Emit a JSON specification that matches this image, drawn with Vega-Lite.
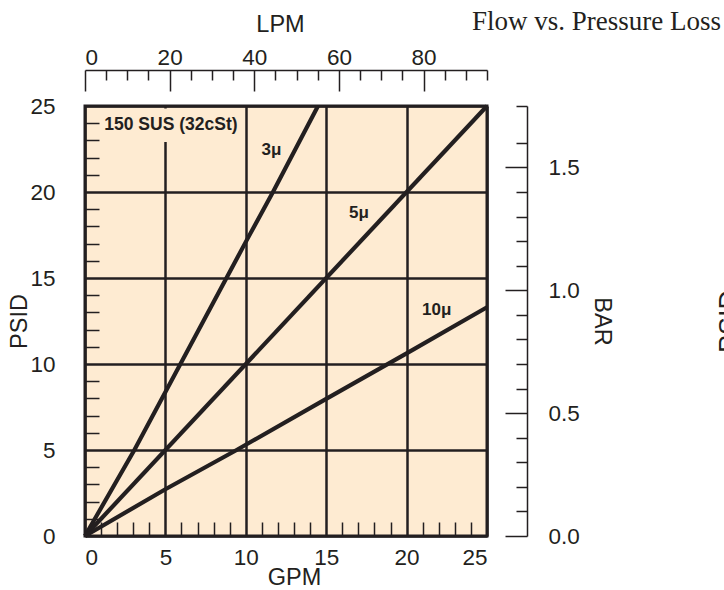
{
  "$schema": "https://vega.github.io/schema/vega-lite/v6.json",
  "autosize": {"type": "none"},
  "width": 402,
  "height": 430,
  "padding": {"left": 85, "top": 106, "right": 237, "bottom": 54},
  "background": "white",
  "title": {"text": "Flow vs. Pressure Loss", "font": "Liberation Serif", "fontSize": 27, "fontWeight": "normal", "color": "#231F20", "anchor": "start", "frame": "group", "dx": 387, "dy": 28},
  "config": {
    "view": {"fill": "#FEEBD2", "stroke": "#231F20", "strokeWidth": 3},
    "axis": {
      "labelFont": "Liberation Sans", "labelFontSize": 22.5, "labelColor": "#231F20",
      "titleFont": "Liberation Sans", "titleFontSize": 23.5, "titleFontWeight": "normal", "titleColor": "#231F20",
      "tickColor": "#231F20", "domainColor": "#231F20", "labelOverlap": false
    }
  },
  "datasets": {
    "curves": [
      {"series": "3u", "gpm": 0, "psid": 0},
      {"series": "3u", "gpm": 3.07, "psid": 5},
      {"series": "3u", "gpm": 10, "psid": 17.1},
      {"series": "3u", "gpm": 11.69, "psid": 20},
      {"series": "3u", "gpm": 14.49, "psid": 25},
      {"series": "5u", "gpm": 0, "psid": 0},
      {"series": "5u", "gpm": 25, "psid": 25},
      {"series": "10u", "gpm": 0, "psid": 0},
      {"series": "10u", "gpm": 5, "psid": 2.72},
      {"series": "10u", "gpm": 9.43, "psid": 5},
      {"series": "10u", "gpm": 15, "psid": 7.97},
      {"series": "10u", "gpm": 20, "psid": 10.62},
      {"series": "10u", "gpm": 25, "psid": 13.3}
    ],
    "labels": [
      {"label": "3μ", "gpm": 11.6, "psid": 22.44},
      {"label": "5μ", "gpm": 17.03, "psid": 18.76},
      {"label": "10μ", "gpm": 21.87, "psid": 13.14}
    ],
    "note": [
      {"label": "150 SUS (32cSt)", "gpm": 1.2, "psid": 23.9, "gpm2": 9.85, "psid_lo": 22.9, "psid_hi": 24.85}
    ],
    "secondary": [
      {"lpm": 0, "bar": 0},
      {"lpm": 95, "bar": 1.75}
    ]
  },
  "layer": [
    {
      "data": {"name": "curves"},
      "mark": {"type": "line", "strokeWidth": 4.2, "color": "#231F20", "strokeCap": "butt"},
      "encoding": {
        "x": {"field": "gpm", "type": "quantitative", "scale": {"domain": [0, 25], "nice": false, "zero": false},
          "axis": {"orient": "bottom", "values": [0, 5, 10, 15, 20, 25], "ticks": false, "domain": false, "grid": true, "gridColor": "#231F20", "gridWidth": 2.5, "gridOpacity": 1, "labelFlush": true, "labelPadding": 10, "title": "GPM", "titlePadding": -3, "titleX": 209}},
        "y": {"field": "psid", "type": "quantitative", "scale": {"domain": [0, 25], "nice": false, "zero": false},
          "axis": {"orient": "left", "values": [0, 5, 10, 15, 20, 25], "ticks": false, "domain": false, "grid": true, "gridColor": "#231F20", "gridWidth": 2.5, "gridOpacity": 1, "labelPadding": 30, "title": "PSID", "titlePadding": -2}},
        "detail": {"field": "series"}
      }
    },
    {
      "data": {"name": "note"},
      "mark": {"type": "rect", "color": "#FEEBD2"},
      "encoding": {
        "x": {"field": "gpm", "type": "quantitative", "scale": {"domain": [0, 25], "nice": false, "zero": false},
          "axis": {"orient": "bottom", "values": [1, 2, 3, 4, 6, 7, 8, 9, 11, 12, 13, 14, 16, 17, 18, 19, 21, 22, 23, 24], "tickSize": -14, "tickWidth": 1.5, "labels": false, "domain": false, "grid": false, "title": null}},
        "x2": {"field": "gpm2"},
        "y": {"field": "psid_lo", "type": "quantitative", "scale": {"domain": [0, 25], "nice": false, "zero": false},
          "axis": {"orient": "left", "values": [1, 2, 3, 4, 6, 7, 8, 9, 11, 12, 13, 14, 16, 17, 18, 19, 21, 22, 23, 24], "tickSize": -14, "tickWidth": 1.5, "labels": false, "domain": false, "grid": false, "title": null}},
        "y2": {"field": "psid_hi"}
      }
    },
    {
      "data": {"name": "note"},
      "mark": {"type": "text", "align": "left", "baseline": "middle", "font": "Liberation Sans", "fontSize": 17.5, "fontWeight": "bold", "color": "#231F20"},
      "encoding": {
        "x": {"field": "gpm", "type": "quantitative", "scale": {"domain": [0, 25], "nice": false, "zero": false}, "axis": null},
        "y": {"field": "psid", "type": "quantitative", "scale": {"domain": [0, 25], "nice": false, "zero": false}, "axis": null},
        "text": {"field": "label"}
      }
    },
    {
      "data": {"name": "labels"},
      "mark": {"type": "text", "align": "center", "baseline": "middle", "font": "Liberation Sans", "fontSize": 17, "fontWeight": "bold", "color": "#231F20"},
      "encoding": {
        "x": {"field": "gpm", "type": "quantitative", "scale": {"domain": [0, 25], "nice": false, "zero": false}, "axis": null},
        "y": {"field": "psid", "type": "quantitative", "scale": {"domain": [0, 25], "nice": false, "zero": false}, "axis": null},
        "text": {"field": "label"}
      }
    },
    {
      "data": {"name": "secondary"},
      "mark": {"type": "point", "opacity": 0},
      "encoding": {
        "x": {"field": "lpm", "type": "quantitative", "scale": {"domain": [0, 95], "nice": false, "zero": false},
          "axis": {"orient": "top", "offset": 36, "values": [0, 20, 40, 60, 80], "tickSize": -21, "tickWidth": 1.5, "domain": true, "domainWidth": 1.5, "grid": false, "labelFlush": true, "labelPadding": 22, "title": "LPM", "titlePadding": 10, "titleX": 195}},
        "y": {"field": "bar", "type": "quantitative", "scale": {"domain": [0, 1.75], "nice": false, "zero": false},
          "axis": {"orient": "right", "offset": 40, "values": [0, 0.5, 1, 1.5], "format": ".1f", "tickSize": -22, "tickWidth": 1.5, "domain": true, "domainWidth": 1.5, "grid": false, "labelPadding": 43, "title": "BAR", "titlePadding": 10}}
      }
    },
    {
      "data": {"name": "secondary"},
      "mark": {"type": "point", "opacity": 0},
      "encoding": {
        "x": {"field": "lpm", "type": "quantitative", "scale": {"domain": [0, 95], "nice": false, "zero": false},
          "axis": {"orient": "top", "offset": 36, "values": [5, 10, 15, 25, 30, 35, 45, 50, 55, 65, 70, 75, 85, 90, 95], "tickSize": -10, "tickWidth": 1.5, "labels": false, "domain": false, "grid": false, "title": null}},
        "y": {"field": "bar", "type": "quantitative", "scale": {"domain": [0, 1.75], "nice": false, "zero": false},
          "axis": {"orient": "right", "offset": 40, "values": [0.1, 0.2, 0.3, 0.4, 0.6, 0.7, 0.8, 0.9, 1.1, 1.2, 1.3, 1.4, 1.6, 1.75], "tickSize": -11, "tickWidth": 1.5, "labels": false, "domain": false, "grid": false, "title": null}}
      }
    },
    {
      "data": {"name": "secondary"},
      "mark": {"type": "point", "opacity": 0},
      "encoding": {
        "y": {"field": "bar", "type": "quantitative", "scale": {"domain": [0, 1.75], "nice": false, "zero": false},
          "axis": {"orient": "right", "offset": 229, "labels": false, "ticks": false, "domain": false, "grid": false, "title": "PSID", "titleAngle": 270, "titleBaseline": "top", "titleFontSize": 27, "titlePadding": 0}}
      }
    }
  ],
  "resolve": {"scale": {"x": "independent", "y": "independent"}}
}
